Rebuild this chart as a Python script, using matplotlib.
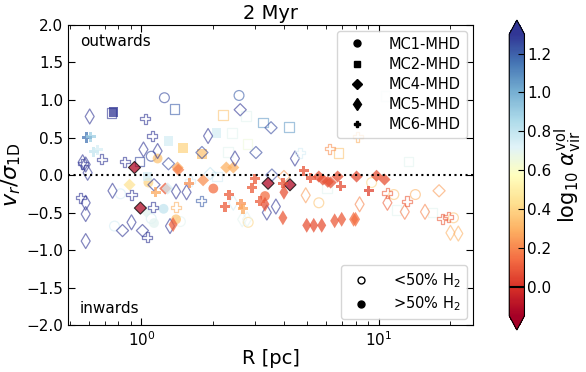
import numpy as np
import matplotlib
matplotlib.use("Agg")
import matplotlib.pyplot as plt
from matplotlib.lines import Line2D

# ---- data: (R [pc], v_r/sigma_1D, log10 alpha_vir, filled = >50% H2) ----
# MC1-MHD (circles)
mc1_R = [1.25, 2.58, 0.816, 1.10, 0.770, 1.10, 1.46, 2.82, 5.60, 9.35, 11.6, 14.3, 20.7,
         1.17, 1.24, 1.13, 2.01, 3.32, 1.40, 1.07]
mc1_v = [1.03, 1.06, -0.25, 0.25, -0.68, -0.58, -0.62, -0.63, -0.37, -0.10, -0.26, -0.26, -0.57,
         0.22, -0.45, -0.64, -0.18, -0.28, -0.59, -0.10]
mc1_a = [1.25, 1.2, 0.75, 1.25, 0.75, 0.75, 0.7, 0.4, 0.35, 0.4, 0.35, 0.3, 0.35,
         0.35, 0.8, 0.7, 0.15, 0.15, 0.35, 0.4]
mc1_f = [0, 0, 0, 0, 0, 0, 0, 0, 0, 0, 0, 0, 0,
         1, 1, 1, 1, 1, 1, 1]

# MC2-MHD (squares)
mc2_R = [0.748, 1.38, 2.21, 2.76, 3.26, 4.19, 2.41, 2.32, 2.80, 0.981, 2.08, 6.79, 6.05, 13.4,
         11.9, 16.9, 10.7,
         0.763, 2.07, 1.30, 1.50, 1.80, 1.06]
mc2_v = [0.83, 0.88, 0.80, 0.79, 0.70, 0.64, 0.56, 0.31, 0.41, 0.18, -0.02, 0.29, -0.17, 0.18,
         -0.47, -0.50, 1.05,
         0.84, 0.56, 0.45, 0.36, 0.28, -0.02]
mc2_a = [1.3, 1.2, 0.35, 0.7, 1.05, 1.05, 0.7, 0.7, 0.65, 1.25, 0.75, 0.35, 0.7, 0.7,
         0.7, 0.7, 0.7,
         1.3, 0.75, 0.75, 0.4, 0.35, 0.75]
mc2_f = [0, 0, 0, 0, 0, 0, 0, 0, 0, 0, 0, 0, 0, 0,
         0, 0, 0,
         1, 1, 1, 1, 1, 1]

# MC4-MHD (diamonds)
mc4_R = [2.61, 3.52, 1.80, 3.04, 1.30, 1.95, 3.55, 3.99, 18.0, 0.832, 1.01, 1.13,
         0.935, 0.99, 3.42, 4.23,
         5.60, 5.82, 6.11, 6.28, 6.72, 8.08, 9.81, 10.6, 2.28, 2.44, 1.82, 1.42, 1.43,
         1.26, 1.05, 0.891, 1.29]
mc4_v = [0.87, 0.63, 0.30, 0.30, 0.15, 0.02, 0.0, -0.02, -0.21, -0.74, -0.74, -0.13,
         0.10, -0.44, -0.11, -0.13,
         -0.02, -0.06, -0.09, -0.10, -0.02, -0.02, -0.01, -0.06, 0.10, 0.10, -0.07, 0.10, 0.07,
         -0.18, -0.49, -0.13, -0.18]
mc4_a = [1.3, 1.25, 1.25, 1.25, 1.25, 0.8, 1.25, 0.25, 0.25, 1.3, 1.3, 1.3,
         -0.12, -0.12, -0.12, -0.12,
         0.08, 0.08, 0.08, 0.08, 0.08, 0.06, 0.08, 0.08, 0.3, 0.3, 0.22, 0.27, 0.18,
         0.1, 0.7, 0.45, 0.75]
mc4_f = [0, 0, 0, 0, 0, 0, 0, 0, 0, 0, 0, 0,
         1, 1, 1, 1,
         1, 1, 1, 1, 1, 1, 1, 1, 1, 1, 1, 1, 1,
         1, 1, 1, 1]

# MC5-MHD (thin diamonds)
mc5_R = [0.605, 0.565, 0.582, 0.593, 0.582, 0.582, 0.582, 0.755, 0.908, 1.02, 1.17, 1.91,
         2.48, 1.40, 1.55, 2.66, 2.79, 4.44, 3.69, 3.38, 4.93, 8.32, 10.9, 12.9, 15.7,
         20.1, 21.7, 1.32, 2.44,
         3.95, 4.98, 5.33, 5.76, 6.53, 6.99, 7.85, 8.00, 3.99, 3.32, 1.36]
mc5_v = [0.78, 0.17, 0.14, 0.03, -0.37, -0.52, -0.88, -0.21, -0.63, 0.34, 0.32, 0.52,
         0.22, -0.22, -0.23, -0.59, -0.59, 0.22, -0.42, -0.50, -0.27, -0.39, -0.37, -0.49, -0.49,
         -0.77, -0.78, -0.68, -0.37,
         -0.57, -0.67, -0.67, -0.67, -0.61, -0.59, -0.59, -0.59, -0.23, -0.39, -0.66]
mc5_a = [1.3, 1.3, 1.3, 1.3, 1.3, 1.3, 1.3, 1.3, 1.3, 1.3, 1.3, 1.3,
         1.3, 1.3, 1.3, 0.7, 0.7, 1.3, 1.3, 1.3, 0.25, 0.2, 0.12, 0.17, 0.2,
         0.3, 0.3, 1.3, 0.75,
         0.1, 0.08, 0.08, 0.08, 0.1, 0.1, 0.15, 0.15, 0.08, 0.08, 0.12]
mc5_f = [0] * 29 + [1] * 11

# MC6-MHD (crosses)
mc6_R = [0.554, 0.679, 0.849, 1.04, 1.11, 0.908, 1.06, 1.12, 1.79, 1.61, 4.66, 8.16, 6.22,
         10.9, 13.2, 18.6, 19.7, 1.40, 0.565,
         0.588, 0.611, 0.629, 0.653, 1.15, 1.59, 2.34, 2.25, 2.63, 2.68, 3.01, 2.93, 3.16,
         4.84, 5.18, 3.95, 6.92, 9.08]
mc6_v = [-0.30, 0.21, 0.18, 0.75, 0.52, -0.26, -0.83, -0.43, -0.34, -0.08, 0.30, 0.51, 0.35,
         -0.24, -0.35, -0.58, -0.56, -0.43, 0.15,
         0.50, 0.51, 0.31, 0.34, -0.23, -0.11, -0.26, -0.42, -0.38, -0.45, -0.05, -0.17, -0.35,
         0.06, -0.04, -0.11, -0.15, -0.21]
mc6_a = [1.3, 1.3, 1.3, 1.3, 1.3, 1.3, 1.3, 1.3, 1.2, 0.75, 0.75, 0.3, 0.22,
         0.1, 0.1, 0.1, 0.1, 0.3, 1.3,
         1.15, 0.9, 0.8, 0.75, 0.27, 0.22, 0.1, 0.1, 0.22, 0.27, 0.1, 0.1, 0.1,
         0.08, 0.08, 0.08, 0.06, 0.04]
mc6_f = [0] * 19 + [1] * 18

clouds = [("MC1-MHD", "o", mc1_R, mc1_v, mc1_a, mc1_f, 50),
          ("MC2-MHD", "s", mc2_R, mc2_v, mc2_a, mc2_f, 48),
          ("MC4-MHD", "D", mc4_R, mc4_v, mc4_a, mc4_f, 38),
          ("MC5-MHD", "d", mc5_R, mc5_v, mc5_a, mc5_f, 58),
          ("MC6-MHD", "P", mc6_R, mc6_v, mc6_a, mc6_f, 52)]

vmin, vmax = -0.15, 1.3
cmap = plt.get_cmap("RdYlBu")
norm = matplotlib.colors.Normalize(vmin=vmin, vmax=vmax)

fig = plt.figure(figsize=(5.86, 3.72), dpi=100)
ax = fig.add_axes([0.116, 0.126, 0.691, 0.807])
cax = fig.add_axes([0.869, 0.113, 0.026, 0.833])

for name, mk, R, v, a, f, s in clouds:
    R = np.array(R); v = np.array(v); a = np.array(a); f = np.array(f, dtype=bool)
    cols = cmap(norm(a))
    dark = a < -0.05
    # open = <50% H2
    ax.scatter(R[~f], v[~f], s=s, marker=mk, facecolors="none", edgecolors=cols[~f],
               linewidths=0.9, alpha=0.6)
    # filled = >50% H2
    m = f & ~dark
    ax.scatter(R[m], v[m], s=s, marker=mk, c=cols[m], linewidths=0, alpha=0.75)
    # darkest ones get a black edge
    m = f & dark
    ax.scatter(R[m], v[m], s=s, marker=mk, c=cols[m], edgecolors="k",
               linewidths=0.8, alpha=0.75)

ax.axhline(0, color="k", ls=":", lw=1.5)
ax.set_xscale("log")
ax.set_xlim(0.49, 25)
ax.set_ylim(-2, 2)
ax.set_yticks(np.arange(-2, 2.01, 0.5))
ax.tick_params(which="both", direction="in", top=True, right=True, labelsize=11)
ax.tick_params(which="major", length=5)
ax.tick_params(which="minor", length=3)
ax.set_xlabel("R [pc]", fontsize=14, labelpad=0)
ax.set_ylabel(r"$v_r/\sigma_{\rm 1D}$", fontsize=16, labelpad=2)
ax.set_title("2 Myr", fontsize=14, pad=4)
ax.text(0.03, 0.97, "outwards", transform=ax.transAxes, fontsize=11, va="top")
ax.text(0.03, 0.03, "inwards", transform=ax.transAxes, fontsize=11, va="bottom")

h1 = [Line2D([], [], ls="none", marker=mk, color="k", markersize=5 if mk != "d" else 6)
      for _, mk, *_ in clouds]
leg1 = ax.legend(h1, [c[0] for c in clouds], loc="upper right", fontsize=10.5,
                 handletextpad=1.2, labelspacing=0.35, borderaxespad=0.4)
ax.add_artist(leg1)
h2 = [Line2D([], [], ls="none", marker="o", mfc="none", mec="k", markersize=5),
      Line2D([], [], ls="none", marker="o", color="k", markersize=5)]
ax.legend(h2, [r"<50% H$_2$", r">50% H$_2$"], loc="lower right", fontsize=10.5,
          handletextpad=1.2, labelspacing=0.35, borderaxespad=0.4)

sm = matplotlib.cm.ScalarMappable(norm=norm, cmap=cmap)
cb = fig.colorbar(sm, cax=cax, extend="both")
cb.set_ticks(np.arange(0, 1.21, 0.2))
cb.ax.tick_params(direction="in", labelsize=11, length=4, pad=2)
cb.ax.axhline(0, color="k", lw=1.5)
cb.set_label(r"log$_{10}$ $\alpha_{\rm vir}^{\rm vol}$", fontsize=15, labelpad=1)

fig.savefig("out.png", dpi=100)
